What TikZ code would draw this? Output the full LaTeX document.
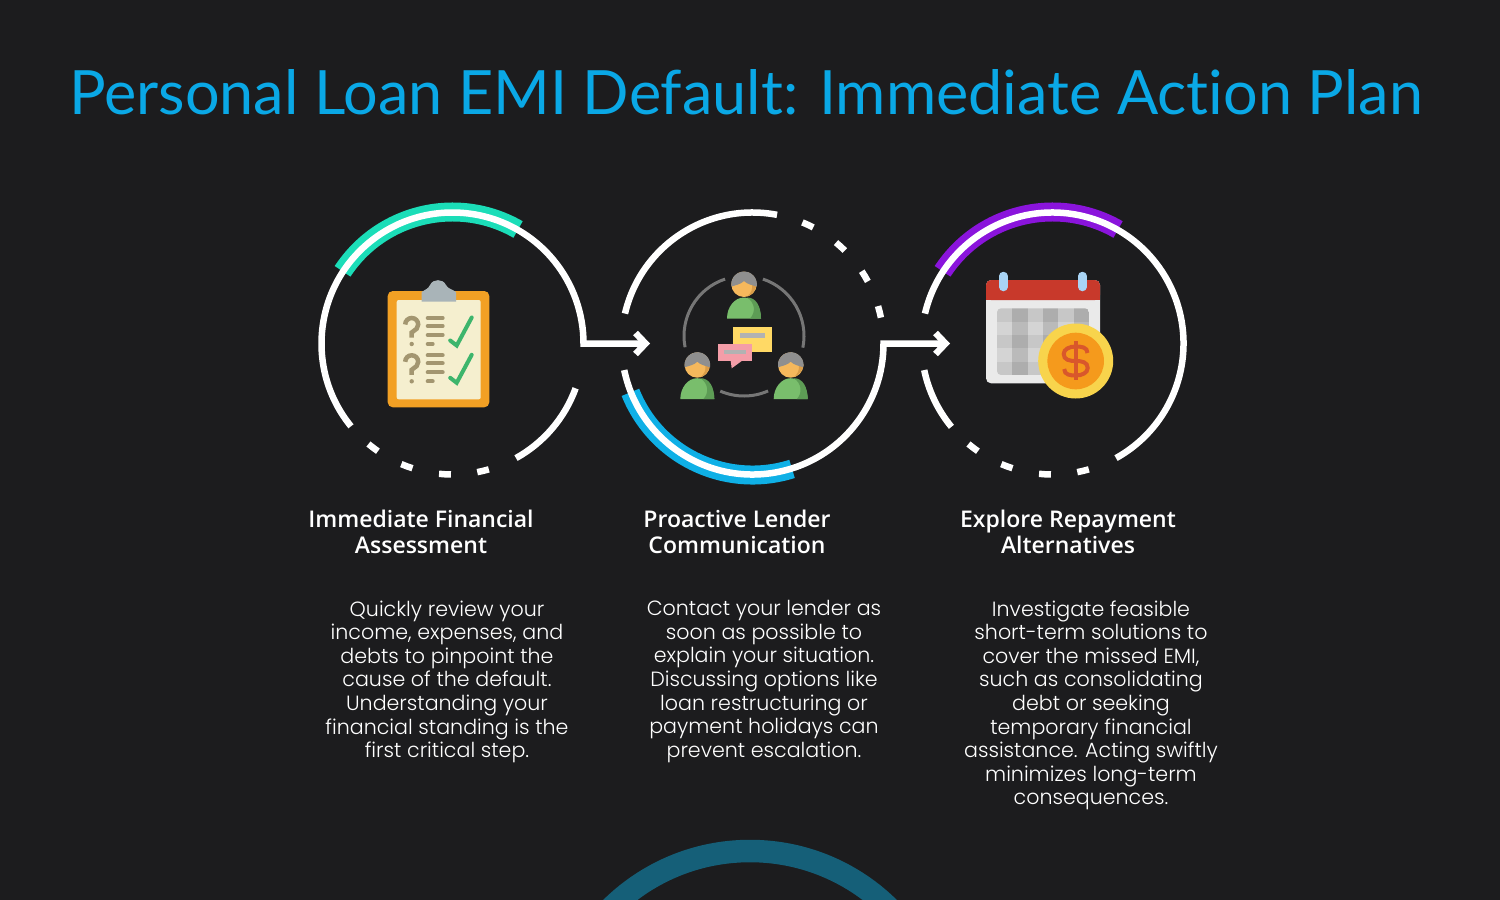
\documentclass[tikz,border=0pt]{standalone}
\usepackage{fontspec}
\usetikzlibrary{arrows.meta}
\setmainfont{Poppins Light}
\newfontfamily\titlefont{Lato}
\newfontfamily\headfont{Open Sans Semibold}
\definecolor{bgdark}{HTML}{1C1C1E}
\definecolor{titleblue}{HTML}{0AA8E6}
\definecolor{tealarc}{HTML}{1BDDB8}
\definecolor{bluearc}{HTML}{0FB0E6}
\definecolor{purplearc}{HTML}{8A14DC}
\definecolor{bottomarc}{HTML}{155F78}
\definecolor{clipor}{HTML}{F2A024}
\definecolor{clippaper}{HTML}{F5EFCF}
\definecolor{clipgrey}{HTML}{A9B4B8}
\definecolor{clipmark}{HTML}{A39670}
\definecolor{tickgreen}{HTML}{3DB56C}
\definecolor{skin}{HTML}{F5B85C}
\definecolor{skindark}{HTML}{D99C48}
\definecolor{hairgrey}{HTML}{8F8F8F}
\definecolor{bodygreen}{HTML}{79BE6C}
\definecolor{bodydark}{HTML}{5D9C55}
\definecolor{chatyellow}{HTML}{FFD965}
\definecolor{chatpink}{HTML}{F49DA8}
\definecolor{linkgrey}{HTML}{767676}
\definecolor{calred}{HTML}{C8392B}
\definecolor{calpage}{HTML}{EAEAEA}
\definecolor{ringblue}{HTML}{A9D4F5}
\definecolor{coinrim}{HTML}{F8D44C}
\definecolor{coinfill}{HTML}{F59A1C}
\definecolor{coinmark}{HTML}{D9572B}
% short piece of a ring: centre, angle on the page
\newcommand{\ringdash}[2]{\draw[ringline] (#1) ++(-#2+2.6:131) arc (-#2+2.6:-#2-2.6:131);}
\tikzset{
	ringline/.style={draw=white,line width=6.5pt},
	bandline/.style={line width=19pt},
	flowline/.style={draw=white,line width=6.5pt,miter limit=10,-{Straight Barb[length=10pt,width=21pt,line width=6.5pt]}},
	headtext/.style={text=white,align=center,font=\headfont\fontsize{23}{26}\selectfont},
	bodytext/.style={text=white,align=center,font=\fontsize{20.6}{23.6}\selectfont},
	person/.pic={
		\fill[bodygreen] (-17,34.2) arc (180:360:17 and 21) -- cycle;
		\fill[bodydark] (6,34.2) .. controls (12,28) and (11,18) .. (3,13.2) .. controls (12,13) and (17,22) .. (17,34.2) -- cycle;
		\fill[skin] (0,0) circle (12.7);
		\fill[skindark] (3,12.3) .. controls (9,10) and (12,5) .. (12.6,0) -- (8,0) .. controls (9,5) and (7,9) .. (3,12.3) -- cycle;
		\fill[hairgrey] (-12.7,2.3) arc (170:370:12.9) .. controls (9,1) and (3,0) .. (0,-3.3) .. controls (-3,0) and (-9,1) .. (-12.7,2.3) -- cycle;
	},
	cliprow/.pic={
		\draw[clipmark,line width=4.5pt] (-6.5,8.5) arc (180:400:6.5) -- (0,16.5) -- (0,21.5);
		\fill[clipmark] (0,28) circle (2.2);
		\draw[clipmark,line width=4pt,line cap=round] (16,2) -- (31,2) (16,10) -- (31,10) (16,19) -- (31,19) (16,28) -- (21,28);
		\draw[tickgreen,line width=4pt,line cap=round] (38.5,24.5) -- (45,29.5) -- (60,1.5);
	}
}
\begin{document}
\begin{tikzpicture}[x=1pt,y=-1pt]
	\useasboundingbox (0,0) rectangle (1500,900);
	\fill[bgdark] (0,0) rectangle (1500,900);
	\begin{scope}
		\clip (0,0) rectangle (1500,900);
		\draw[bottomarc,line width=22.5pt] (750,1049) circle (198);
	\end{scope}
	\node[text=titleblue,font=\titlefont\fontsize{61.1}{70}\selectfont] (title) at (746,92) {Personal Loan EMI Default: Immediate Act\kern0pt ion Plan};

	% ring centres and arrow ends
	\coordinate (c1) at (452.5,343.5);
	\coordinate (c2) at (752.5,343.5);
	\coordinate (c3) at (1052.5,343.5);
	\coordinate (tip1) at (650,343.5);
	\coordinate (tip2) at (950,343.5);

	% coloured bands
	\draw[tealarc,bandline] (c1) ++(-146.7:131.5) arc (-146.7:-60.1:131.5);
	\draw[purplearc,bandline] (c3) ++(-146.7:131.5) arc (-146.7:-60.1:131.5);
	\draw[bluearc,bandline] (c2) ++(-201.8:131.5) arc (-201.8:-287.5:131.5);

	% first ring
	\draw[flowline] (c1) ++(-219.2:131) arc (-219.2:0:131) -- (tip1);
	\draw[ringline] (c1) ++(61:131) arc (61:20:131);
	\ringdash{c1}{232.7}
	\ringdash{c1}{249.6}
	\ringdash{c1}{266.7}
	\ringdash{c1}{283.5}

	% second ring
	\draw[ringline] (c2) ++(-166.8:131) arc (-166.8:-79.2:131);
	\ringdash{c2}{65}
	\ringdash{c2}{47.8}
	\ringdash{c2}{30.9}
	\ringdash{c2}{14}
	\draw[flowline] (c2) ++(168.3:131) arc (168.3:0:131) -- (tip2);

	% third ring
	\draw[ringline] (c3) ++(-166.8:131) arc (-166.8:61:131);
	\draw[ringline] (c3) ++(168.3:131) arc (168.3:140.5:131);
	\ringdash{c3}{232.7}
	\ringdash{c3}{249.6}
	\ringdash{c3}{266.7}
	\ringdash{c3}{283.5}

	% clipboard
	\fill[clipor,rounded corners=5pt] (387.7,291) rectangle (489.3,407.3);
	\fill[clippaper,rounded corners=2pt] (396.7,300) rectangle (480.7,399.3);
	\fill[clipgrey] (421.7,301.7) -- (421.7,292) .. controls (426,289) and (428,289) .. (430,285) .. controls (433,278.5) and (443,278.5) .. (446,285) .. controls (448,289) and (452,289) .. (456,292) -- (456,301.7) -- cycle;
	\pic at (411.7,316) {cliprow};
	\pic at (411.7,353.3) {cliprow};

	% people and chat
	\draw[linkgrey,line width=3pt] (744,336) ++(-108.4:60) arc (-108.4:-190.8:60);
	\draw[linkgrey,line width=3pt] (744,336) ++(-71.6:60) arc (-71.6:11.2:60);
	\draw[linkgrey,line width=3pt] (744,336) ++(66.3:60) arc (66.3:113.3:60);
	\pic at (744,284.3) {person};
	\pic at (697.3,365) {person};
	\pic at (790.7,365) {person};
	\fill[chatyellow] (733.3,326.7) rectangle (771.7,352.3);
	\fill[black!30] (740,333.3) rectangle (765,337.7);
	\fill[chatpink] (718.3,344) rectangle (752,361);
	\fill[chatpink] (730.7,361) -- (731.7,368.3) -- (741.7,361) -- cycle;
	\fill[black!30] (724,350) rectangle (746,354);

	% calendar
	\fill[calpage,rounded corners=5pt] (986,280) rectangle (1100,383.3);
	\fill[calred,rounded corners=5pt] (986,300) -- (986,280) -- (1100,280) -- (1100,300) -- cycle;
	\fill[calred] (986,290) rectangle (1100,300);
	\begin{scope}
		\clip[rounded corners=4pt] (997,308.3) rectangle (1089,375);
		\foreach \row in {0,...,4}{
			\foreach \col in {0,...,5}{
				\pgfmathtruncatemacro{\shade}{17+10*mod(\col,2)+5*mod(\row+1,2)}
				\fill[black!\shade] (997+\col*15.33,308.3+\row*13.34) rectangle ++(15.4,13.4);
			}
		}
	\end{scope}
	\draw[ringblue,line width=8.5pt,line cap=round] (1003.3,276) -- (1003.3,287) (1082.3,276) -- (1082.3,287);
	\fill[coinrim] (1075.7,361) circle (37.5);
	\fill[coinfill] (1075.7,361) circle (28.3);
	\draw[coinmark,line width=4pt] (1087.5,353) .. controls (1087.5,347) and (1081,346.5) .. (1075.7,346.5) .. controls (1069.7,346.5) and (1063.7,349) .. (1063.7,354) .. controls (1063.7,360) and (1069.7,361) .. (1075.7,361) .. controls (1081.7,361) and (1087.7,362) .. (1087.7,368) .. controls (1087.7,373) and (1081.7,375.5) .. (1075.7,375.5) .. controls (1070.7,375.5) and (1064.2,375) .. (1064.2,369);
	\draw[coinmark,line width=4pt] (1075.7,341) -- (1075.7,380);

	% headings
	\node[headtext] (head1) at (421,532) {Immediate Financial\\Assessment};
	\node[headtext] (head2) at (737,532) {Proactive Lender\\Communication};
	\node[headtext] (head3) at (1068,532) {Explore Repayment\\Alternatives};

	% descriptions
	\node[bodytext,anchor=north] (body1) at (447,597) {Quickly review your\\income, expenses, and\\debts to pinpoint the\\cause of the default.\\Understanding your\\financial standing is the\\first critical step.};
	\node[bodytext,anchor=north] (body2) at (764,597) {Contact your lender as\\soon as possible to\\explain your situation.\\Discussing options like\\loan restructuring or\\payment holidays can\\prevent escalation.};
	\node[bodytext,anchor=north] (body3) at (1091,597) {Investigate feasible\\short-term solutions to\\cover the missed EMI,\\such as consolidating\\debt or seeking\\temporary financial\\assistance. Acting swiftly\\minimizes long-term\\consequences.};
\end{tikzpicture}
\end{document}
